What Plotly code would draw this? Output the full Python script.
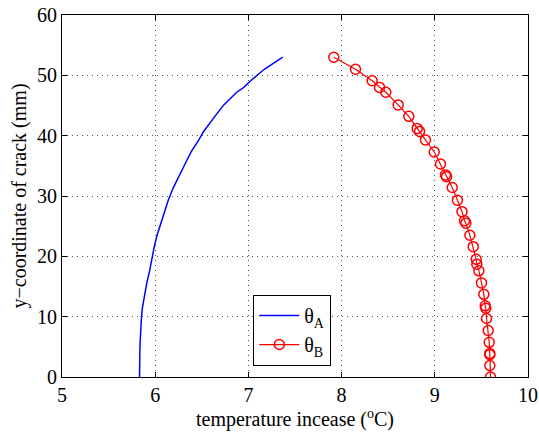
import plotly.graph_objects as go

y_crack = [53.0, 51.0, 49.1, 48.0, 47.2, 45.1, 43.2, 41.2, 40.7, 39.3, 37.3, 35.3, 33.5, 33.2,
           31.4, 29.3, 27.4, 25.9, 25.5, 23.5, 21.6, 19.5, 18.7, 17.6, 15.6, 13.7, 11.8, 11.4,
           9.7, 7.7, 5.75, 3.9, 3.7, 1.9, 0.0]
theta_A = [7.369, 7.17, 7.025, 6.95, 6.875, 6.736, 6.64, 6.55, 6.52, 6.468, 6.385, 6.32, 6.265, 6.255,
           6.195, 6.14, 6.10, 6.065, 6.057, 6.02, 5.99, 5.965, 5.955, 5.94, 5.91, 5.885, 5.866, 5.862,
           5.852, 5.843, 5.838, 5.835, 5.835, 5.833, 5.832]
theta_B = [7.916, 8.149, 8.328, 8.407, 8.474, 8.607, 8.721, 8.811, 8.836, 8.900, 8.994, 9.061, 9.115, 9.126,
           9.187, 9.243, 9.292, 9.319, 9.333, 9.376, 9.412, 9.444, 9.451, 9.473, 9.501, 9.526, 9.541, 9.547,
           9.555, 9.573, 9.584, 9.590, 9.590, 9.590, 9.598]
x_ticks = [5, 6, 7, 8, 9, 10]
y_ticks = [0, 10, 20, 30, 40, 50, 60]

FONT = "Liberation Serif"

fig = go.Figure()
fig.add_trace(go.Scatter(x=theta_A, y=y_crack, mode="lines", name="θ<sub>A</sub>",
                         line=dict(color="#0000ff", width=1.5)))
fig.add_trace(go.Scatter(x=theta_B, y=y_crack, mode="lines+markers", name="θ<sub>B</sub>",
                         line=dict(color="#ff0000", width=1.2),
                         marker=dict(symbol="circle-open", size=10, color="#ff0000",
                                     line=dict(width=1.5, color="#ff0000"))))

axis_common = dict(showline=True, linecolor="black", linewidth=1.2, mirror="ticks",
                   ticks="inside", ticklen=5, tickcolor="black", automargin=False,
                   showgrid=True, gridcolor="#555555", griddash="1px,4px", gridwidth=1,
                   zeroline=False, tickfont=dict(family=FONT, size=20, color="black"))

fig.update_xaxes(range=[5, 10], tickvals=x_ticks, **axis_common,
                 title=dict(text="temperature incease (<sup>o</sup>C)",
                            font=dict(family=FONT, size=20, color="black"), standoff=6))
fig.update_yaxes(range=[0, 60], tickvals=y_ticks, **axis_common,
                 title=dict(text="y−coordinate of crack (mm)",
                            font=dict(family=FONT, size=20, color="black"), standoff=4))

fig.update_layout(
    width=539, height=437,
    margin=dict(l=62, r=11, t=15, b=60),
    paper_bgcolor="white", plot_bgcolor="white",
    font=dict(family=FONT, size=20, color="black"),
    legend=dict(x=0.41, y=0.227, xanchor="left", yanchor="top",
                bgcolor="white", bordercolor="black", borderwidth=1.2,
                font=dict(family=FONT, size=20, color="black"),
                itemwidth=40, tracegroupgap=2),
    showlegend=True,
)

fig.write_html("out.html", config={"displayModeBar": False},
               post_script="document.body.style.margin='0';document.body.style.overflow='hidden';")
